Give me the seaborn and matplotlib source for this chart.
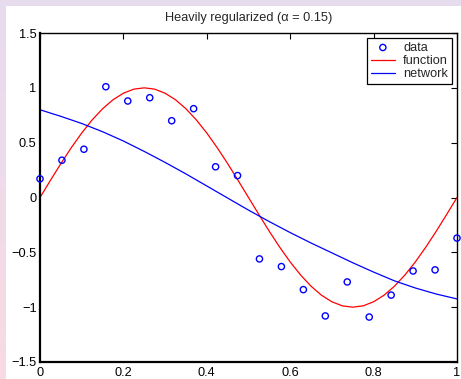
import numpy as np
import pandas as pd
import matplotlib
matplotlib.use("Agg")
import matplotlib.pyplot as plt
from matplotlib.patches import Rectangle
import seaborn as sns

# ---- data ----
data_x = [0.0, 0.0526, 0.1053, 0.1579, 0.2105, 0.2632, 0.3158, 0.3684, 0.4211, 0.4737,
          0.5263, 0.5789, 0.6316, 0.6842, 0.7368, 0.7895, 0.8421, 0.8947, 0.9474, 1.0]
data_y = [0.17, 0.34, 0.44, 1.01, 0.88, 0.91, 0.70, 0.81, 0.28, 0.20,
          -0.56, -0.63, -0.84, -1.08, -0.77, -1.09, -0.89, -0.67, -0.66, -0.37]

func_x = [0.0, 0.025, 0.05, 0.075, 0.1, 0.125, 0.15, 0.175, 0.2, 0.225,
          0.25, 0.275, 0.3, 0.325, 0.35, 0.375, 0.4, 0.425, 0.45, 0.475,
          0.5, 0.525, 0.55, 0.575, 0.6, 0.625, 0.65, 0.675, 0.7, 0.725,
          0.75, 0.775, 0.8, 0.825, 0.85, 0.875, 0.9, 0.925, 0.95, 0.975, 1.0]
func_y = [0.0, 0.156, 0.309, 0.454, 0.588, 0.707, 0.809, 0.891, 0.951, 0.988,
          1.0, 0.988, 0.951, 0.891, 0.809, 0.707, 0.588, 0.454, 0.309, 0.156,
          0.0, -0.156, -0.309, -0.454, -0.588, -0.707, -0.809, -0.891, -0.951, -0.988,
          -1.0, -0.988, -0.951, -0.891, -0.809, -0.707, -0.588, -0.454, -0.309, -0.156, 0.0]

net_x = [0.0, 0.05, 0.1, 0.15, 0.2, 0.25, 0.3, 0.35, 0.4, 0.45,
         0.5, 0.55, 0.6, 0.65, 0.7, 0.75, 0.8, 0.85, 0.9, 0.95, 1.0]
net_y = [0.80, 0.74, 0.675, 0.60, 0.515, 0.42, 0.32, 0.215, 0.105, -0.005,
         -0.115, -0.22, -0.32, -0.415, -0.505, -0.595, -0.68, -0.76, -0.825, -0.88, -0.925]

x_ticks = [0, 0.2, 0.4, 0.6, 0.8, 1]
x_tick_labels = ["0", "0.2", "0.4", "0.6", "0.8", "1"]
y_ticks = [-1.5, -1, -0.5, 0, 0.5, 1, 1.5]
y_tick_labels = ["\u22121.5", "\u22121", "\u22120.5", "0", "0.5", "1", "1.5"]

title = "Heavily regularized (\u03b1 = 0.15)"

# ---- figure ----
sns.set_style("white")
plt.rcParams['font.family'] = ['Liberation Sans', 'DejaVu Sans']
plt.rcParams['axes.unicode_minus'] = True

FS = 9.2
W, H = 461, 379
fig = plt.figure(figsize=(W / 100, H / 100), dpi=100)

# background gradient (lavender -> pink) and white panel
bg = fig.add_axes([0, 0, 1, 1])
bg.set_axis_off()
top_c = np.array([0.906, 0.863, 0.937])
bot_c = np.array([0.973, 0.855, 0.890])
t = np.linspace(0, 1, 100)[:, None]
grad = (1 - t) * top_c + t * bot_c
bg.imshow(grad[:, None, :].repeat(10, axis=1), aspect='auto', extent=[0, 1, 0, 1])
bg.add_patch(Rectangle((6 / W, 0), 1, 1 - 6 / H, transform=bg.transAxes,
                       facecolor='white', edgecolor='none'))
bg.set_xlim(0, 1)
bg.set_ylim(0, 1)

ax = fig.add_axes([40 / W, (H - 362) / H, (457 - 40) / W, (362 - 33) / H])
ax.set_facecolor('white')

df_data = pd.DataFrame({"x": data_x, "y": data_y})
df_func = pd.DataFrame({"x": func_x, "y": func_y})
df_net = pd.DataFrame({"x": net_x, "y": net_y})

sns.lineplot(data=df_func, x="x", y="y", ax=ax, color=(1, 0, 0), lw=0.9,
             label="function", sort=False, estimator=None)
sns.lineplot(data=df_net, x="x", y="y", ax=ax, color=(0, 0, 1), lw=0.9,
             label="network", sort=False, estimator=None)
sns.scatterplot(data=df_data, x="x", y="y", ax=ax, marker='o', s=20,
                facecolor='none', edgecolor=(0, 0, 1), linewidth=1.0,
                label="data", zorder=5, clip_on=False)

ax.set_xlim(0, 1)
ax.set_ylim(-1.5, 1.5)
ax.set_xticks(x_ticks)
ax.set_xticklabels(x_tick_labels)
ax.set_yticks(y_ticks)
ax.set_yticklabels(y_tick_labels)
ax.set_xlabel("")
ax.set_ylabel("")
ax.tick_params(direction='in', length=4, width=0.8, top=True, right=True,
               labelsize=FS, colors='black', pad=2.5)
ax.tick_params(axis='x', pad=3.5)
for side in ['left', 'bottom']:
    ax.spines[side].set_linewidth(1.6)
for side in ['top', 'right']:
    ax.spines[side].set_linewidth(1.0)
for s in ax.spines.values():
    s.set_color('black')
    s.set_visible(True)

ax.set_title(title, fontsize=FS, pad=9)

handles, labels = ax.get_legend_handles_labels()
order = [labels.index("data"), labels.index("function"), labels.index("network")]
leg = ax.legend([handles[i] for i in order], [labels[i] for i in order],
                loc='upper right', bbox_to_anchor=(1 - 5 / 417, 1 - 5 / 329),
                fontsize=FS, frameon=True, fancybox=False, framealpha=1,
                edgecolor='black', borderpad=0.3, labelspacing=0.1,
                handlelength=1.9, handletextpad=0.65, borderaxespad=0)
leg.get_frame().set_linewidth(0.9)

fig.savefig("out.png", dpi=100)
